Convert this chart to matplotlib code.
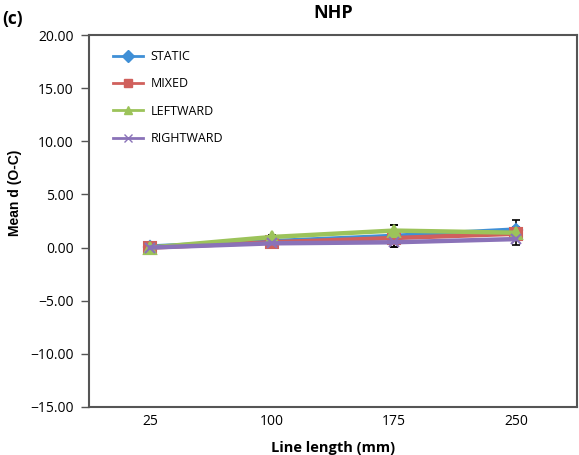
import matplotlib
matplotlib.use("Agg")
import matplotlib.pyplot as plt
import numpy as np
from matplotlib.ticker import FuncFormatter
from matplotlib.lines import Line2D

plt.rcParams["font.family"] = ["Open Sans", "DejaVu Sans"]

# data
lengths = ["25", "100", "175", "250"]
static = [0.1, 0.6, 1.1, 1.7]
mixed = [0.0, 0.5, 0.9, 1.3]
leftward = [0.0, 1.0, 1.6, 1.4]
rightward = [0.0, 0.4, 0.5, 0.8]
static_err = [0.2, 0.2, 1.0, 0.9]
mixed_err = [0.2, 0.2, 0.4, 0.5]
leftward_err = [0.2, 0.2, 0.5, 0.5]
rightward_err = [0.1, 0.2, 0.4, 0.6]

series = [
    ("STATIC", static, static_err, "#3f8fd6", "D", 6),
    ("MIXED", mixed, mixed_err, "#d0605c", "s", 8),
    ("LEFTWARD", leftward, leftward_err, "#9cc35a", "^", 8),
    ("RIGHTWARD", rightward, rightward_err, "#8a72b8", "x", 7),
]

fig = plt.figure(figsize=(5.79, 4.55), dpi=100)
ax = fig.add_axes([0.1537, 0.1055, 0.8428, 0.8175])

x = np.arange(len(lengths)) + 0.5
handles = []
for name, vals, err, col, mk, ms in series:
    ax.errorbar(x, vals, yerr=err, fmt="none", ecolor="black", elinewidth=1.2,
                capsize=3, capthick=1.2, zorder=2)
    ax.plot(x, vals, color=col, lw=3.2, marker=mk, ms=ms, mfc=col, mec=col,
            mew=1.5, zorder=3)
    handles.append(Line2D([], [], color=col, lw=2, marker=mk, ms=6, mfc=col,
                          mec=col, label=name))

ax.set_xlim(0, 4)
ax.set_ylim(-15, 20)
ax.set_yticks(np.arange(-15, 21, 5))
ax.yaxis.set_major_formatter(FuncFormatter(lambda v, p: f"{v:.2f}".replace("-", "\u2212")))
ax.set_xticks(x)
ax.set_xticklabels(lengths)
ax.tick_params(axis="x", length=0, labelsize=10, pad=5)
ax.tick_params(axis="y", length=6, width=1, labelsize=10, pad=5, color="#555555")
for s in ax.spines.values():
    s.set_color("#555555")
    s.set_linewidth(1.5)

ax.set_xlabel("Line length (mm)", fontsize=10.5, fontweight="bold", labelpad=9)
fig.text(15 / 579, 1 - 193 / 455, "Mean d (O-C)", fontsize=10, fontweight="bold",
         family=["Liberation Sans", "DejaVu Sans"], rotation=90,
         ha="center", va="center")
fig.text(0.575, 1 - 13.5 / 455, "NHP", fontsize=13, fontweight="bold",
         ha="center", va="center")
fig.text(0.004, 1 - 19 / 455, "(c)", fontsize=12.5, fontweight="bold", va="center", ha="left")

ax.legend(handles=handles, loc="upper left", bbox_to_anchor=(0.049, 0.96), frameon=False,
          fontsize=9, handlelength=2.4, handletextpad=0.6, labelspacing=1.15,
          borderaxespad=0, borderpad=0)

fig.savefig("out.png", dpi=100)
